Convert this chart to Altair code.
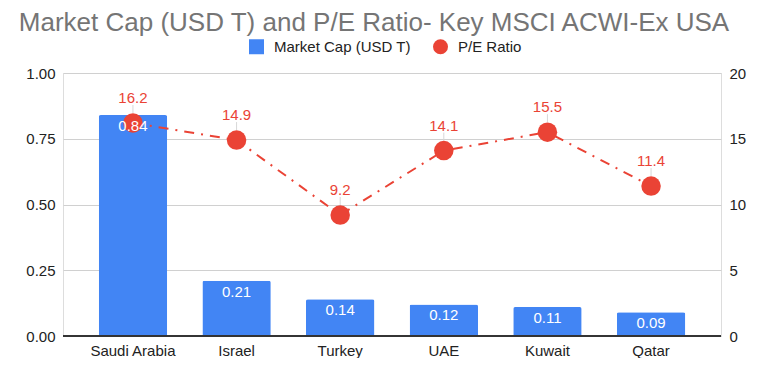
import altair as alt
import pandas as pd

countries = ["Saudi Arabia", "Israel", "Turkey", "UAE", "Kuwait", "Qatar"]
market_cap = [0.84, 0.21, 0.14, 0.12, 0.11, 0.09]
pe_ratio = [16.2, 14.9, 9.2, 14.1, 15.5, 11.4]

df = pd.DataFrame({
    "country": countries,
    "cap": market_cap,
    "pe": pe_ratio,
    "cap_s": ["Market Cap (USD T)"] * 6,
    "pe_s": ["P/E Ratio"] * 6,
    "cap_lbl": [f"{v:.2f}" for v in market_cap],
    "pe_lbl": [f"{v:.1f}" for v in pe_ratio],
})

BLUE = "#4285F4"
RED = "#EA4335"
FONT = "Liberation Sans"

xenc = alt.X("country:N", sort=countries, title=None,
             scale=alt.Scale(paddingInner=0.34, paddingOuter=0.345),
             axis=alt.Axis(labelAngle=0, labelFontSize=15, labelColor="#222222", labelFont=FONT,
                           ticks=False, domain=False, labelPadding=7))

leg = alt.Legend(orient="none", legendX=186, legendY=-34, direction="horizontal",
                 labelFontSize=15, labelColor="#222222", labelFont=FONT, labelOffset=10,
                 symbolSize=225, columnPadding=22, symbolStrokeWidth=0, symbolOpacity=1)
dom = ["Market Cap (USD T)", "P/E Ratio"]
color = alt.Color("s:N", title=None, scale=alt.Scale(domain=dom, range=[BLUE, RED]), legend=leg)
shape = alt.Shape("s:N", title=None, scale=alt.Scale(domain=dom, range=["square", "circle"]), legend=leg)

yleft = alt.Y("cap:Q", title=None, scale=alt.Scale(domain=[0, 1]),
              axis=alt.Axis(values=[0, 0.25, 0.5, 0.75, 1.0], format=".2f", labelFontSize=15,
                            labelColor="#222222", labelFont=FONT, ticks=False, domain=False,
                            gridColor="#d0d0d0", labelPadding=8))
yright = alt.Y("pe:Q", title=None, scale=alt.Scale(domain=[0, 20]),
               axis=alt.Axis(orient="right", values=[0, 5, 10, 15, 20], labelFontSize=15,
                             labelColor="#222222", labelFont=FONT, ticks=False, domain=False,
                             grid=False, labelPadding=8))

base = alt.Chart(df)

bars = base.transform_calculate(s="datum.cap_s").mark_bar(
    color=BLUE, cornerRadiusTopLeft=2, cornerRadiusTopRight=2
).encode(x=xenc, y=yleft, color=color)

baseline = base.mark_rule(color="#333333", strokeWidth=1).encode(y=alt.datum(0))

left = alt.layer(bars, baseline)

line = base.mark_line(color=RED, strokeWidth=2, strokeDash=[10, 7, 2, 7]).encode(
    x=xenc, y=yright)
pts = base.transform_calculate(s="datum.pe_s").mark_point(filled=True, size=380, opacity=1).encode(
    x=xenc, y=yright, color=color, shape=shape)
leader = base.mark_rule(color="#d8d8d8", strokeWidth=1, yOffset=-10, y2Offset=-18).encode(
    x=xenc, y=yright, y2="pe:Q")
pe_lbl = base.mark_text(color=RED, fontSize=15, font=FONT, baseline="alphabetic", dy=-20).encode(
    x=xenc, y=yright, text="pe_lbl:N")

right = alt.layer(line, leader, pts, pe_lbl)

bar_lbl = base.mark_text(color="white", fontSize=15, font=FONT, baseline="top", dy=4).encode(
    x=xenc, y=alt.Y("cap:Q", scale=alt.Scale(domain=[0, 1]), axis=None), text="cap_lbl:N")

chart = alt.layer(left, right, bar_lbl).resolve_scale(y="independent").properties(
    width=658, height=263,
    padding={"left": 10, "top": 2, "right": 5, "bottom": 0},
    title=alt.TitleParams("Market Cap (USD T) and P/E Ratio- Key MSCI ACWI-Ex USA",
                          anchor="start", frame="bounds", fontSize=26, font=FONT, fontWeight="normal",
                          color="#757575", dx=-7, offset=3),
).configure_view(stroke="transparent").configure(background="white")

chart.save("out.html", embed_options={"renderer": "svg", "actions": False})
